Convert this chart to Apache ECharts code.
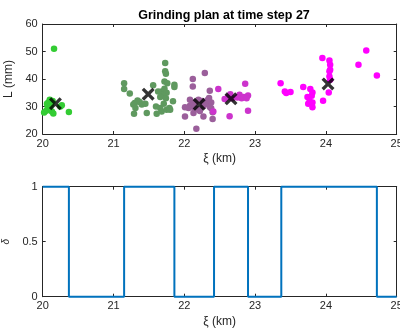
<!DOCTYPE html>
<html><head><meta charset="utf-8">
<script src="https://cdn.jsdelivr.net/npm/echarts@6/dist/echarts.min.js"></script>
<style>html,body{margin:0;padding:0;background:#fff}#c{width:400px;height:331px}</style>
</head><body><div id="c"></div>
<script>
// ---- data ----
var xTicks = [20, 21, 22, 23, 24, 25];
var lTicks = [20, 30, 40, 50, 60];
var dTicks = [0, 0.5, 1];
var cluster1 = [[20.02,27.8],[20.05,28.5],[20.07,30],[20.08,31.5],[20.1,32.5],[20.09,29.5],[20.12,31],[20.13,28.2],[20.15,27.5],[20.06,31],[20.11,30.5],[20.14,32],[20.16,51],[20.25,30],[20.27,30.5],[20.37,28]];
var cluster2 = [[21.73,45.8],[21.73,42.8],[21.74,41.9],[21.72,39.1],[21.76,38.5],[21.86,37.9],[21.86,37.1],[21.15,38.5],[21.15,36.4],[21.23,34.7],[21.56,37.7],[21.68,35.5],[21.72,36.5],[21.75,35],[21.7,34],[21.66,33.5],[21.74,33],[21.63,35.5],[21.34,32.2],[21.37,31.6],[21.3,31.3],[21.28,30.7],[21.4,30.7],[21.31,29.5],[21.47,27.6],[21.29,27.4],[21.66,29.5],[21.61,27.4],[21.68,28.2],[21.75,28.8],[21.8,28.8],[21.84,31.9],[21.79,29.5],[21.45,31],[21.6,30],[21.71,31]];
var cluster3 = [[22.29,42.2],[22.12,40],[22.12,37.3],[22.36,35.7],[22.2,32.5],[22.16,31.6],[22.12,30.8],[22.08,30.3],[22.06,29.5],[22.14,29.5],[22.18,29],[22.22,28.4],[22.27,30.2],[22.31,31],[22.35,33.1],[22.38,31.5],[22.01,29.7],[22.08,32.5],[22.01,26.4],[22.27,26.4],[22.4,25.5],[22.17,21.9],[22.13,27.6],[22.38,29.4],[22.4,27.9],[22.36,29.8],[22.25,32],[22.33,32.4]];
var cluster4 = [[22.41,28.2],[22.48,36.4],[22.57,32.7],[22.62,33.5],[22.65,34.5],[22.64,26.5],[22.68,33],[22.78,34.3],[22.81,33],[22.84,33.5],[22.86,38.3],[22.9,34],[22.88,33],[22.9,28.5],[22.75,33.3]];
var cluster5 = [[23.36,38.5],[23.42,35.5],[23.44,34.9],[23.5,35.3],[23.68,37.1],[23.78,36.4],[23.81,35.1],[23.8,33.9],[23.74,33.5],[23.77,31.9],[23.81,31.5],[23.75,31],[23.81,29.7],[23.95,47.6],[23.96,32.1],[24.05,46.7],[24.06,45.2],[24.06,43.4],[24.05,42.8],[24.05,40.9],[24.06,39.7],[24.04,35.1],[24.46,45.2],[24.57,50.4],[24.72,41.3]];
var centers = [[20.18,31],[21.49,34.5],[22.21,30.8],[22.66,32.8],[24.03,38.2]];
var breaks = [20, 20.37, 21.15, 21.86, 22.42, 22.9, 23.37, 24.72, 25];
var delta = [1, 0, 1, 0, 1, 0, 1, 0];

var stepData = [];
for (var i = 0; i < delta.length; i++) {
  stepData.push([breaks[i], delta[i]]);
  stepData.push([breaks[i + 1], delta[i]]);
}

var axColor = '#262626';
var font = 'Liberation Sans, Arial, sans-serif';
function xAx(g, pos, show) {
  return {
    type: 'value', gridIndex: g, position: pos, min: 20, max: 25, interval: 1,
    axisLine: {show: true, onZero: false, lineStyle: {color: axColor, width: 1}},
    axisTick: {show: true, inside: true, length: 3, lineStyle: {color: axColor}},
    axisLabel: {show: show, color: axColor, fontSize: 11, fontFamily: font, margin: 4},
    splitLine: {show: false},
    name: show ? 'ξ (km)' : '', nameLocation: 'middle', nameGap: 19,
    nameTextStyle: {color: axColor, fontSize: 12, fontFamily: font}
  };
}
function yAx(g, pos, show, min, max, iv, name, nameGap, nameStyle) {
  return {
    type: 'value', gridIndex: g, position: pos, min: min, max: max, interval: iv,
    axisLine: {show: true, onZero: false, lineStyle: {color: axColor, width: 1}},
    axisTick: {show: true, inside: true, length: 3, lineStyle: {color: axColor}},
    axisLabel: {show: show, color: axColor, fontSize: 11, fontFamily: font, margin: 5},
    splitLine: {show: false},
    name: show ? name : '', nameLocation: 'middle', nameGap: nameGap, nameRotate: 90,
    nameTextStyle: nameStyle
  };
}
var xPath = 'path://M0,1.8L1.8,0L5,3.2L8.2,0L10,1.8L6.8,5L10,8.2L8.2,10L5,6.8L1.8,10L0,8.2L3.2,5Z';
function sc(data, color) {
  return {type: 'scatter', xAxisIndex: 0, yAxisIndex: 0, data: data, symbolSize: 6.5,
    itemStyle: {color: color, opacity: 1}, z: 3};
}
var chart = echarts.init(document.getElementById('c'), null, {renderer: 'canvas'});
chart.setOption({
  animation: false,
  backgroundColor: '#fff',
  title: {text: 'Grinding plan at time step 27', left: 219, top: 4, textAlign: 'center',
    textStyle: {fontSize: 12.5, fontWeight: 'bold', color: '#000', fontFamily: font}},
  grid: [
    {left: 42.7, top: 24, width: 354, height: 110, show: false, containLabel: false, outerBoundsMode: 'none'},
    {left: 42.7, top: 186.7, width: 354, height: 110, show: false, containLabel: false, outerBoundsMode: 'none'}
  ],
  xAxis: [xAx(0, 'bottom', true), xAx(0, 'top', false), xAx(1, 'bottom', true), xAx(1, 'top', false)],
  yAxis: [
    yAx(0, 'left', true, 20, 60, 10, 'L (mm)', 27, {color: axColor, fontSize: 12, fontFamily: font}),
    yAx(0, 'right', false, 20, 60, 10),
    yAx(1, 'left', true, 0, 1, 0.5, 'δ', 30, {color: axColor, fontSize: 10, fontStyle: 'italic', fontFamily: font}),
    yAx(1, 'right', false, 0, 1, 0.5)
  ],
  series: [
    sc(cluster1, '#33cc33'),
    sc(cluster2, '#5f995f'),
    sc(cluster3, '#9b5f9b'),
    sc(cluster4, '#cc33cc'),
    sc(cluster5, '#ff00ff'),
    {type: 'scatter', xAxisIndex: 0, yAxisIndex: 0, data: centers, symbol: xPath, symbolSize: 13,
      itemStyle: {color: '#000'}, z: 5},
    {type: 'line', xAxisIndex: 2, yAxisIndex: 2, data: stepData, showSymbol: false, clip: false,
      lineStyle: {color: '#0072bd', width: 2}, z: 5}
  ]
});
</script></body></html>
